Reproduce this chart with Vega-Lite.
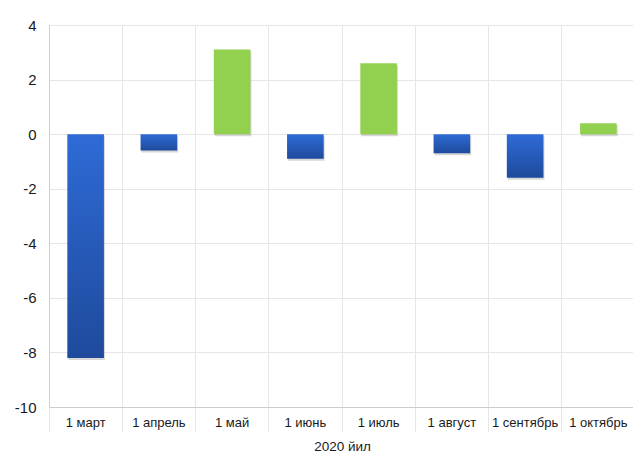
{
  "$schema": "https://vega.github.io/schema/vega-lite/v6.json",
  "width": 586,
  "height": 382,
  "autosize": "none",
  "padding": {"left": 49, "top": 25, "right": 0, "bottom": 47},
  "background": "#ffffff",
  "data": {
    "values": [
      {"month": "1 март", "value": -8.2},
      {"month": "1 апрель", "value": -0.6},
      {"month": "1 май", "value": 3.1},
      {"month": "1 июнь", "value": -0.9},
      {"month": "1 июль", "value": 2.6},
      {"month": "1 август", "value": -0.7},
      {"month": "1 сентябрь", "value": -1.6},
      {"month": "1 октябрь", "value": 0.4}
    ]
  },
  "config": {
    "font": "Liberation Sans",
    "view": {"stroke": "#d9d9d9", "strokeWidth": 1}
  },
  "encoding": {
    "x": {
      "field": "month",
      "type": "nominal",
      "sort": ["1 март", "1 апрель", "1 май", "1 июнь", "1 июль", "1 август", "1 сентябрь", "1 октябрь"],
      "scale": {"paddingInner": 0, "paddingOuter": 0},
      "axis": {
        "title": "2020 йил",
        "titleFontSize": 13.5,
        "titleFontWeight": "normal",
        "titleColor": "#1a1a1a",
        "titlePadding": 7,
        "labelAngle": 0,
        "labelFontSize": 13,
        "labelColor": "#1a1a1a",
        "labelPadding": -16,
        "labelLimit": 0,
        "bandPosition": 0,
        "tickSize": 25,
        "tickColor": "#e6e6e6",
        "gridColor": "#e6e6e6",
        "grid": true,
        "domainColor": "#cccccc"
      }
    },
    "y": {
      "field": "value",
      "type": "quantitative",
      "scale": {"domain": [-10, 4], "nice": false},
      "axis": {
        "title": null,
        "values": [-10, -8, -6, -4, -2, 0, 2, 4],
        "labelExpr": "replace(datum.label, '−', '-')",
        "labelFontSize": 15,
        "labelColor": "#1a1a1a",
        "labelPadding": 13,
        "ticks": false,
        "gridColor": "#e6e6e6",
        "domainColor": "#d0d0d0"
      }
    }
  },
  "layer": [
    {
      "mark": {
        "type": "bar",
        "width": {"band": 0.5},
        "color": "#8c8c8c",
        "opacity": 0.35,
        "xOffset": 1,
        "yOffset": 2
      }
    },
    {
      "transform": [{"filter": "datum.value < 0"}],
      "mark": {
        "type": "bar",
        "width": {"band": 0.5},
        "color": {
          "gradient": "linear",
          "x1": 0, "y1": 0, "x2": 0, "y2": 1,
          "stops": [
            {"offset": 0, "color": "#2e6bd6"},
            {"offset": 1, "color": "#1f4a9c"}
          ]
        }
      }
    },
    {
      "transform": [{"filter": "datum.value >= 0"}],
      "mark": {"type": "bar", "width": {"band": 0.5}, "color": "#92d050"}
    }
  ]
}
